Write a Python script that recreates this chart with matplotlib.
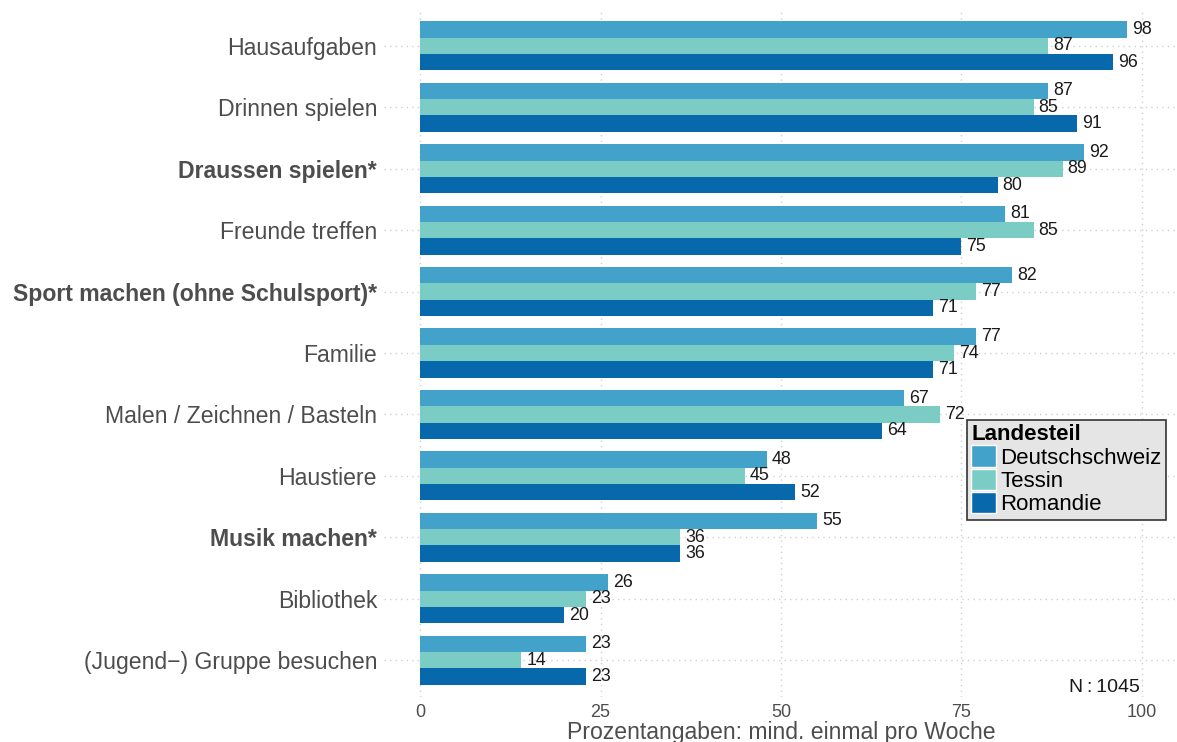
import numpy as np
import matplotlib
matplotlib.use('Agg')
import matplotlib.pyplot as plt
from matplotlib.patches import Patch

plt.rcParams['font.family'] = ['Liberation Sans', 'DejaVu Sans']

# data
kategorien = ['Hausaufgaben', 'Drinnen spielen', 'Draussen spielen*', 'Freunde treffen',
              'Sport machen (ohne Schulsport)*', 'Familie', 'Malen / Zeichnen / Basteln',
              'Haustiere', 'Musik machen*', 'Bibliothek', '(Jugend\u2212) Gruppe besuchen']
fett = ['Draussen spielen*', 'Sport machen (ohne Schulsport)*', 'Musik machen*']
deutschschweiz = [98, 87, 92, 81, 82, 77, 67, 48, 55, 26, 23]
tessin = [87, 85, 89, 85, 77, 74, 72, 45, 36, 23, 14]
romandie = [96, 91, 80, 75, 71, 71, 64, 52, 36, 20, 23]
serien = ['Deutschschweiz', 'Tessin', 'Romandie']
farben = ['#43A2CA', '#7BCCC4', '#0868AC']
ticks_x = [0, 25, 50, 75, 100]

fig = plt.figure(figsize=(11.77, 7.42), dpi=100)
ax = fig.add_axes([384/1177, 1 - 697/742, 794/1177, 688/742])

y = np.arange(len(kategorien))
h = 0.8 / 3
for k, (werte, farbe) in enumerate(zip([deutschschweiz, tessin, romandie], farben)):
    pos = y + (k - 1) * h
    ax.barh(pos, werte, height=h, color=farbe, zorder=2)
    for p, v in zip(pos, werte):
        ax.text(v + 0.7, p, str(v), va='center', ha='left', fontsize=12.8,
                color='#1A1A1A', zorder=3)

ax.set_xlim(-5, 105)
ax.set_ylim(len(kategorien) - 0.4, -0.6)
ax.set_xticks(ticks_x)
ax.set_yticks(y)
ax.set_yticklabels(kategorien)
for lab in ax.get_yticklabels():
    if lab.get_text() in fett:
        lab.set_fontweight('bold')
ax.tick_params(axis='y', length=0, pad=5, labelsize=16.6, labelcolor='#4D4D4D')
ax.tick_params(axis='x', length=0, pad=5, labelsize=13, labelcolor='#4D4D4D')
for s in ax.spines.values():
    s.set_visible(False)
ax.grid(True, linestyle=(0, (1, 3)), color='#D0D0D0', linewidth=1, zorder=0)
ax.set_axisbelow(True)
ax.set_xlabel('Prozentangaben: mind. einmal pro Woche', fontsize=16.6,
              color='#4D4D4D', labelpad=0)

ax.text(99.7, 10.45, 'N\u2009:\u20091045', ha='right', va='center', fontsize=14, color='#1A1A1A')

handles = [Patch(facecolor=f, edgecolor='white', linewidth=1) for f in farben]
leg = fig.legend(handles, serien, title='Landesteil', loc='upper left',
                 bbox_to_anchor=(967/1177, 1 - 420/742), borderaxespad=0,
                 fontsize=16, title_fontproperties={'weight': 'bold', 'size': 16},
                 alignment='left', fancybox=False, framealpha=1,
                 facecolor='#E5E5E5', edgecolor='#333333',
                 handlelength=1.1, handleheight=1.1, handletextpad=0.2,
                 labelspacing=0.0, borderpad=0.2)
leg.get_frame().set_linewidth(1.2)

fig.savefig('out.png', dpi=100)
